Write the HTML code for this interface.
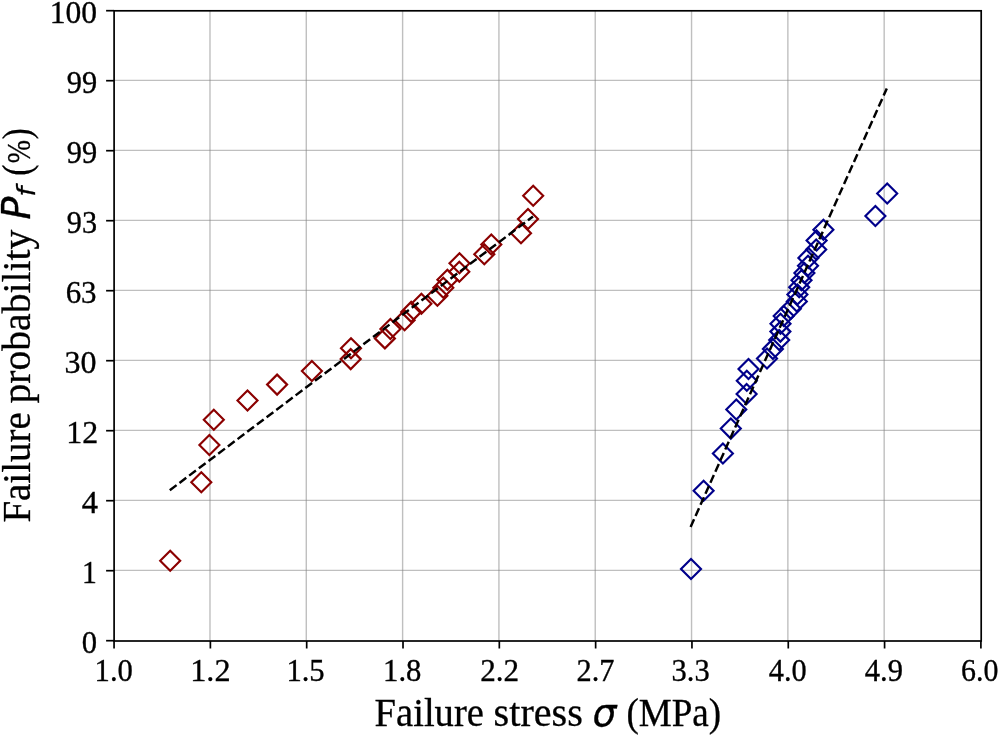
<!DOCTYPE html><html><head><meta charset="utf-8"><title>Weibull plot</title><style>html,body{margin:0;padding:0;background:#fff;overflow:hidden}svg{display:block}</style></head><body><svg width="1000" height="736" viewBox="0 0 1000 736"><rect width="1000" height="736" fill="#fff"/><g stroke="#808080" stroke-opacity="0.5" stroke-width="1.4"><line x1="209.98" y1="10.40" x2="209.98" y2="640.40"/><line x1="306.29" y1="10.40" x2="306.29" y2="640.40"/><line x1="402.61" y1="10.40" x2="402.61" y2="640.40"/><line x1="498.92" y1="10.40" x2="498.92" y2="640.40"/><line x1="595.24" y1="10.40" x2="595.24" y2="640.40"/><line x1="691.55" y1="10.40" x2="691.55" y2="640.40"/><line x1="787.87" y1="10.40" x2="787.87" y2="640.40"/><line x1="884.18" y1="10.40" x2="884.18" y2="640.40"/><line x1="113.66" y1="80.40" x2="980.50" y2="80.40"/><line x1="113.66" y1="150.40" x2="980.50" y2="150.40"/><line x1="113.66" y1="220.40" x2="980.50" y2="220.40"/><line x1="113.66" y1="290.40" x2="980.50" y2="290.40"/><line x1="113.66" y1="360.40" x2="980.50" y2="360.40"/><line x1="113.66" y1="430.40" x2="980.50" y2="430.40"/><line x1="113.66" y1="500.40" x2="980.50" y2="500.40"/><line x1="113.66" y1="570.40" x2="980.50" y2="570.40"/></g><g fill="none" stroke="#8b0000" stroke-width="2.15" stroke-miterlimit="10"><path d="M170.20 550.65L180.20 560.65L170.20 570.65L160.20 560.65Z"/><path d="M201.30 472.23L211.30 482.23L201.30 492.23L191.30 482.23Z"/><path d="M209.40 434.91L219.40 444.91L209.40 454.91L199.40 444.91Z"/><path d="M213.80 409.73L223.80 419.73L213.80 429.73L203.80 419.73Z"/><path d="M247.50 390.44L257.50 400.44L247.50 410.44L237.50 400.44Z"/><path d="M277.10 374.62L287.10 384.62L277.10 394.62L267.10 384.62Z"/><path d="M311.90 361.07L321.90 371.07L311.90 381.07L301.90 371.07Z"/><path d="M350.70 349.12L360.70 359.12L350.70 369.12L340.70 359.12Z"/><path d="M351.00 338.31L361.00 348.31L351.00 358.31L341.00 348.31Z"/><path d="M384.90 328.38L394.90 338.38L384.90 348.38L374.90 338.38Z"/><path d="M390.40 319.09L400.40 329.09L390.40 339.09L380.40 329.09Z"/><path d="M404.60 310.30L414.60 320.30L404.60 330.30L394.60 320.30Z"/><path d="M411.20 301.88L421.20 311.88L411.20 321.88L401.20 311.88Z"/><path d="M421.40 293.72L431.40 303.72L421.40 313.72L411.40 303.72Z"/><path d="M437.40 285.72L447.40 295.72L437.40 305.72L427.40 295.72Z"/><path d="M443.30 277.79L453.30 287.79L443.30 297.79L433.30 287.79Z"/><path d="M447.40 269.82L457.40 279.82L447.40 289.82L437.40 279.82Z"/><path d="M459.30 261.70L469.30 271.70L459.30 281.70L449.30 271.70Z"/><path d="M459.50 253.27L469.50 263.27L459.50 273.27L449.50 263.27Z"/><path d="M484.30 244.34L494.30 254.34L484.30 264.34L474.30 254.34Z"/><path d="M491.30 234.54L501.30 244.54L491.30 254.54L481.30 244.54Z"/><path d="M521.00 223.27L531.00 233.27L521.00 243.27L511.00 233.27Z"/><path d="M528.00 209.02L538.00 219.02L528.00 229.02L518.00 219.02Z"/><path d="M533.20 185.65L543.20 195.65L533.20 205.65L523.20 195.65Z"/></g><g fill="none" stroke="#00008b" stroke-width="2.15" stroke-miterlimit="10"><path d="M691.00 558.98L701.00 568.98L691.00 578.98L681.00 568.98Z"/><path d="M703.60 480.74L713.60 490.74L703.60 500.74L693.60 490.74Z"/><path d="M722.90 443.60L732.90 453.60L722.90 463.60L712.90 453.60Z"/><path d="M730.80 418.61L740.80 428.61L730.80 438.61L720.80 428.61Z"/><path d="M736.30 399.54L746.30 409.54L736.30 419.54L726.30 409.54Z"/><path d="M746.60 383.96L756.60 393.96L746.60 403.96L736.60 393.96Z"/><path d="M746.80 370.66L756.80 380.66L746.80 390.66L736.80 380.66Z"/><path d="M748.50 358.98L758.50 368.98L748.50 378.98L738.50 368.98Z"/><path d="M767.00 348.49L777.00 358.49L767.00 368.49L757.00 358.49Z"/><path d="M772.90 338.89L782.90 348.89L772.90 358.89L762.90 348.89Z"/><path d="M779.20 329.98L789.20 339.98L779.20 349.98L769.20 339.98Z"/><path d="M780.40 321.62L790.40 331.62L780.40 341.62L770.40 331.62Z"/><path d="M780.50 313.67L790.50 323.67L780.50 333.67L770.50 323.67Z"/><path d="M783.70 306.06L793.70 316.06L783.70 326.06L773.70 316.06Z"/><path d="M790.80 298.69L800.80 308.69L790.80 318.69L780.80 308.69Z"/><path d="M796.80 291.49L806.80 301.49L796.80 311.49L786.80 301.49Z"/><path d="M797.40 284.40L807.40 294.40L797.40 304.40L787.40 294.40Z"/><path d="M799.20 277.35L809.20 287.35L799.20 297.35L789.20 287.35Z"/><path d="M801.50 270.27L811.50 280.27L801.50 290.27L791.50 280.27Z"/><path d="M804.40 263.07L814.40 273.07L804.40 283.07L794.40 273.07Z"/><path d="M808.00 255.66L818.00 265.66L808.00 275.66L798.00 265.66Z"/><path d="M808.40 247.89L818.40 257.89L808.40 267.89L798.40 257.89Z"/><path d="M816.20 239.58L826.20 249.58L816.20 259.58L806.20 249.58Z"/><path d="M816.60 230.39L826.60 240.39L816.60 250.39L806.60 240.39Z"/><path d="M823.40 219.72L833.40 229.72L823.40 239.72L813.40 229.72Z"/><path d="M875.40 206.10L885.40 216.10L875.40 226.10L865.40 216.10Z"/><path d="M887.20 183.55L897.20 193.55L887.20 203.55L877.20 193.55Z"/></g><g stroke="#000" stroke-width="2.45" stroke-dasharray="8.46 3.66" fill="none"><path d="M169.8 490.2L533.0 216.5"/><path d="M690.6 527.0L886.8 88.5"/></g><g stroke="#000" stroke-width="1.7"><rect x="114.1" y="10.8" width="867.10" height="630.20" fill="none" stroke="#000" stroke-width="1.7"/><line x1="114.06" y1="641.00" x2="114.06" y2="648.50"/><line x1="114.10" y1="10.70" x2="106.10" y2="10.70"/><line x1="210.38" y1="641.00" x2="210.38" y2="648.50"/><line x1="114.10" y1="80.70" x2="106.10" y2="80.70"/><line x1="306.69" y1="641.00" x2="306.69" y2="648.50"/><line x1="114.10" y1="150.70" x2="106.10" y2="150.70"/><line x1="403.01" y1="641.00" x2="403.01" y2="648.50"/><line x1="114.10" y1="220.70" x2="106.10" y2="220.70"/><line x1="499.32" y1="641.00" x2="499.32" y2="648.50"/><line x1="114.10" y1="290.70" x2="106.10" y2="290.70"/><line x1="595.64" y1="641.00" x2="595.64" y2="648.50"/><line x1="114.10" y1="360.70" x2="106.10" y2="360.70"/><line x1="691.95" y1="641.00" x2="691.95" y2="648.50"/><line x1="114.10" y1="430.70" x2="106.10" y2="430.70"/><line x1="788.27" y1="641.00" x2="788.27" y2="648.50"/><line x1="114.10" y1="500.70" x2="106.10" y2="500.70"/><line x1="884.58" y1="641.00" x2="884.58" y2="648.50"/><line x1="114.10" y1="570.70" x2="106.10" y2="570.70"/><line x1="980.90" y1="641.00" x2="980.90" y2="648.50"/><line x1="114.10" y1="640.70" x2="106.10" y2="640.70"/></g><g fill="#000" stroke="#000" stroke-width="0.35"><text x="94.62" y="680.50" font-family="'Liberation Serif', serif" font-size="32" textLength="38.33" lengthAdjust="spacingAndGlyphs">1.0</text><text x="190.23" y="680.50" font-family="'Liberation Serif', serif" font-size="32" textLength="40.29" lengthAdjust="spacingAndGlyphs">1.2</text><text x="286.38" y="680.50" font-family="'Liberation Serif', serif" font-size="32" textLength="38.33" lengthAdjust="spacingAndGlyphs">1.5</text><text x="383.12" y="680.50" font-family="'Liberation Serif', serif" font-size="32" textLength="38.33" lengthAdjust="spacingAndGlyphs">1.8</text><text x="480.28" y="680.50" font-family="'Liberation Serif', serif" font-size="32" textLength="38.92" lengthAdjust="spacingAndGlyphs">2.2</text><text x="576.55" y="680.50" font-family="'Liberation Serif', serif" font-size="32" textLength="37.89" lengthAdjust="spacingAndGlyphs">2.7</text><text x="671.59" y="680.50" font-family="'Liberation Serif', serif" font-size="32" textLength="38.11" lengthAdjust="spacingAndGlyphs">3.3</text><text x="768.80" y="680.50" font-family="'Liberation Serif', serif" font-size="32" textLength="37.89" lengthAdjust="spacingAndGlyphs">4.0</text><text x="864.74" y="680.50" font-family="'Liberation Serif', serif" font-size="32" textLength="38.21" lengthAdjust="spacingAndGlyphs">4.9</text><text x="961.07" y="680.50" font-family="'Liberation Serif', serif" font-size="32" textLength="37.37" lengthAdjust="spacingAndGlyphs">6.0</text><text x="49.64" y="22.90" font-family="'Liberation Serif', serif" font-size="32" textLength="47.35" lengthAdjust="spacingAndGlyphs">100</text><text x="66.85" y="92.90" font-family="'Liberation Serif', serif" font-size="32" textLength="30.40" lengthAdjust="spacingAndGlyphs">99</text><text x="66.85" y="162.90" font-family="'Liberation Serif', serif" font-size="32" textLength="30.40" lengthAdjust="spacingAndGlyphs">99</text><text x="66.86" y="232.90" font-family="'Liberation Serif', serif" font-size="32" textLength="30.19" lengthAdjust="spacingAndGlyphs">93</text><text x="65.63" y="302.90" font-family="'Liberation Serif', serif" font-size="32" textLength="30.93" lengthAdjust="spacingAndGlyphs">63</text><text x="64.60" y="372.90" font-family="'Liberation Serif', serif" font-size="32" textLength="32.00" lengthAdjust="spacingAndGlyphs">30</text><text x="66.21" y="442.90" font-family="'Liberation Serif', serif" font-size="32" textLength="31.88" lengthAdjust="spacingAndGlyphs">12</text><text x="81.89" y="512.90" font-family="'Liberation Serif', serif" font-size="32" textLength="16.23" lengthAdjust="spacingAndGlyphs">4</text><text x="82.12" y="582.90" font-family="'Liberation Serif', serif" font-size="32" textLength="14.84" lengthAdjust="spacingAndGlyphs">1</text><text x="81.74" y="652.90" font-family="'Liberation Serif', serif" font-size="32" textLength="15.31" lengthAdjust="spacingAndGlyphs">0</text></g><g fill="#000" stroke="#000" stroke-width="0.3"><text x="374.61" y="726.00" font-family="'Liberation Serif', serif" font-size="39" textLength="109.24" lengthAdjust="spacingAndGlyphs">Failure</text><text x="493.64" y="726.00" font-family="'Liberation Serif', serif" font-size="39" textLength="89.18" lengthAdjust="spacingAndGlyphs">stress</text><text x="592.43" y="726.00" font-family="'DejaVu Sans', sans-serif" font-size="38.5" font-style="italic" textLength="23.98" lengthAdjust="spacingAndGlyphs">σ</text><text x="626.40" y="726.00" font-family="'Liberation Serif', serif" font-size="39" textLength="94.78" lengthAdjust="spacingAndGlyphs">(MPa)</text><g transform="translate(29.9,0) rotate(-90)"><text x="-522.60" y="0.00" font-family="'Liberation Serif', serif" font-size="39" textLength="110.26" lengthAdjust="spacingAndGlyphs">Failure</text><text x="-403.62" y="0.00" font-family="'Liberation Serif', serif" font-size="39" textLength="174.06" lengthAdjust="spacingAndGlyphs">probability</text><text x="-219.48" y="0.00" font-family="'DejaVu Sans', sans-serif" font-size="38.5" font-style="italic" textLength="22.80" lengthAdjust="spacingAndGlyphs">P</text><text x="-196.82" y="5.50" font-family="'DejaVu Sans', sans-serif" font-size="25.5" font-style="italic" textLength="9.97" lengthAdjust="spacingAndGlyphs">f</text><text x="-175.72" y="0.00" font-family="'Liberation Serif', serif" font-size="39" textLength="11.18" lengthAdjust="spacingAndGlyphs">(</text><text x="-163.21" y="0.00" font-family="'Liberation Serif', serif" font-size="34.5" textLength="23.22" lengthAdjust="spacingAndGlyphs">%</text><text x="-139.34" y="0.00" font-family="'Liberation Serif', serif" font-size="39" textLength="10.92" lengthAdjust="spacingAndGlyphs">)</text></g></g></svg></body></html>
